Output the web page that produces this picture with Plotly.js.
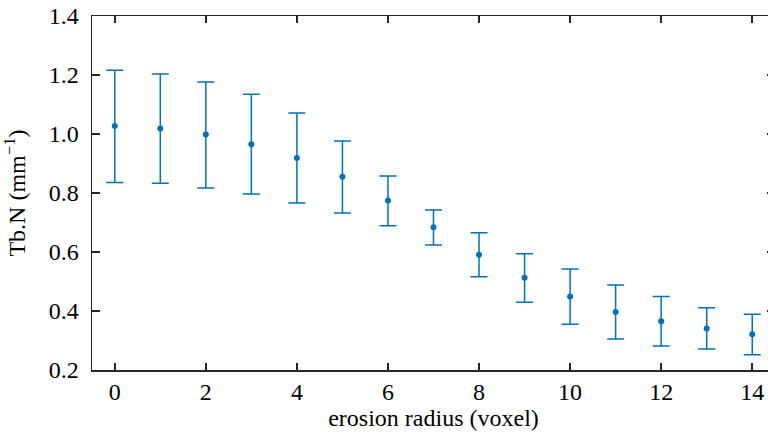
<!DOCTYPE html>
<html>
<head>
<meta charset="utf-8">
<script src="https://cdn.plot.ly/plotly-3.0.1.min.js"></script>
<style>
html, body { margin: 0; padding: 0; overflow: hidden; width: 768px; height: 434px; background: #fff; }
#chart { width: 780px; height: 434px; }
</style>
</head>
<body>
<div id="chart"></div>
<script>
const radius = [0, 1, 2, 3, 4, 5, 6, 7, 8, 9, 10, 11, 12, 13, 14];
const meanTbN = [1.027, 1.019, 0.998, 0.965, 0.919, 0.855, 0.775, 0.684, 0.591, 0.513, 0.449, 0.397, 0.365, 0.341, 0.321];
const upperTbN = [1.216, 1.203, 1.176, 1.135, 1.071, 0.976, 0.858, 0.742, 0.665, 0.594, 0.542, 0.488, 0.449, 0.411, 0.389];
const lowerTbN = [0.836, 0.833, 0.817, 0.797, 0.766, 0.732, 0.689, 0.624, 0.516, 0.430, 0.355, 0.305, 0.281, 0.271, 0.252];
const xTicks = [0, 2, 4, 6, 8, 10, 12, 14];
const yTicks = [0.2, 0.4, 0.6, 0.8, 1.0, 1.2, 1.4];

const errPlus = upperTbN.map((u, i) => u - meanTbN[i]);
const errMinus = lowerTbN.map((l, i) => meanTbN[i] - l);

const blue = '#0072BD';
const axisColor = '#262626';
const font = { family: 'Liberation Serif', size: 24, color: '#000' };

const trace = {
  x: radius,
  y: meanTbN,
  type: 'scatter',
  mode: 'markers',
  marker: { color: blue, size: 6 },
  error_y: {
    type: 'data',
    symmetric: false,
    array: errPlus,
    arrayminus: errMinus,
    color: blue,
    thickness: 1.5,
    width: 8.5
  },
  hoverinfo: 'none'
};

const layout = {
  width: 780,
  height: 434,
  margin: { l: 92, r: 3, t: 16, b: 64 },
  paper_bgcolor: '#fff',
  plot_bgcolor: '#fff',
  showlegend: false,
  font: font,
  xaxis: {
    range: [-0.5, 14.5],
    tickvals: xTicks,
    ticktext: xTicks.map(String),
    ticks: 'inside',
    ticklen: 7,
    tickwidth: 1.5,
    tickcolor: axisColor,
    showline: true,
    linecolor: axisColor,
    linewidth: 1.5,
    mirror: 'ticks',
    showgrid: false,
    zeroline: false,
    automargin: true,
    tickfont: font,
    title: { text: 'erosion radius (voxel)', font: font, standoff: 4 }
  },
  yaxis: {
    range: [0.2, 1.4],
    tickvals: yTicks,
    ticktext: yTicks.map(v => v.toFixed(1)),
    ticks: 'inside',
    ticklen: 8,
    tickwidth: 1.5,
    tickcolor: axisColor,
    showline: true,
    linecolor: axisColor,
    linewidth: 1.5,
    mirror: 'ticks',
    showgrid: false,
    zeroline: false,
    automargin: true,
    ticklabelstandoff: 7,
    tickfont: font,
    title: { text: 'Tb.N (mm<sup>−1</sup>)', font: font, standoff: 22 }
  }
};

Plotly.newPlot('chart', [trace], layout, { staticPlot: true, displayModeBar: false });
</script>
</body>
</html>
